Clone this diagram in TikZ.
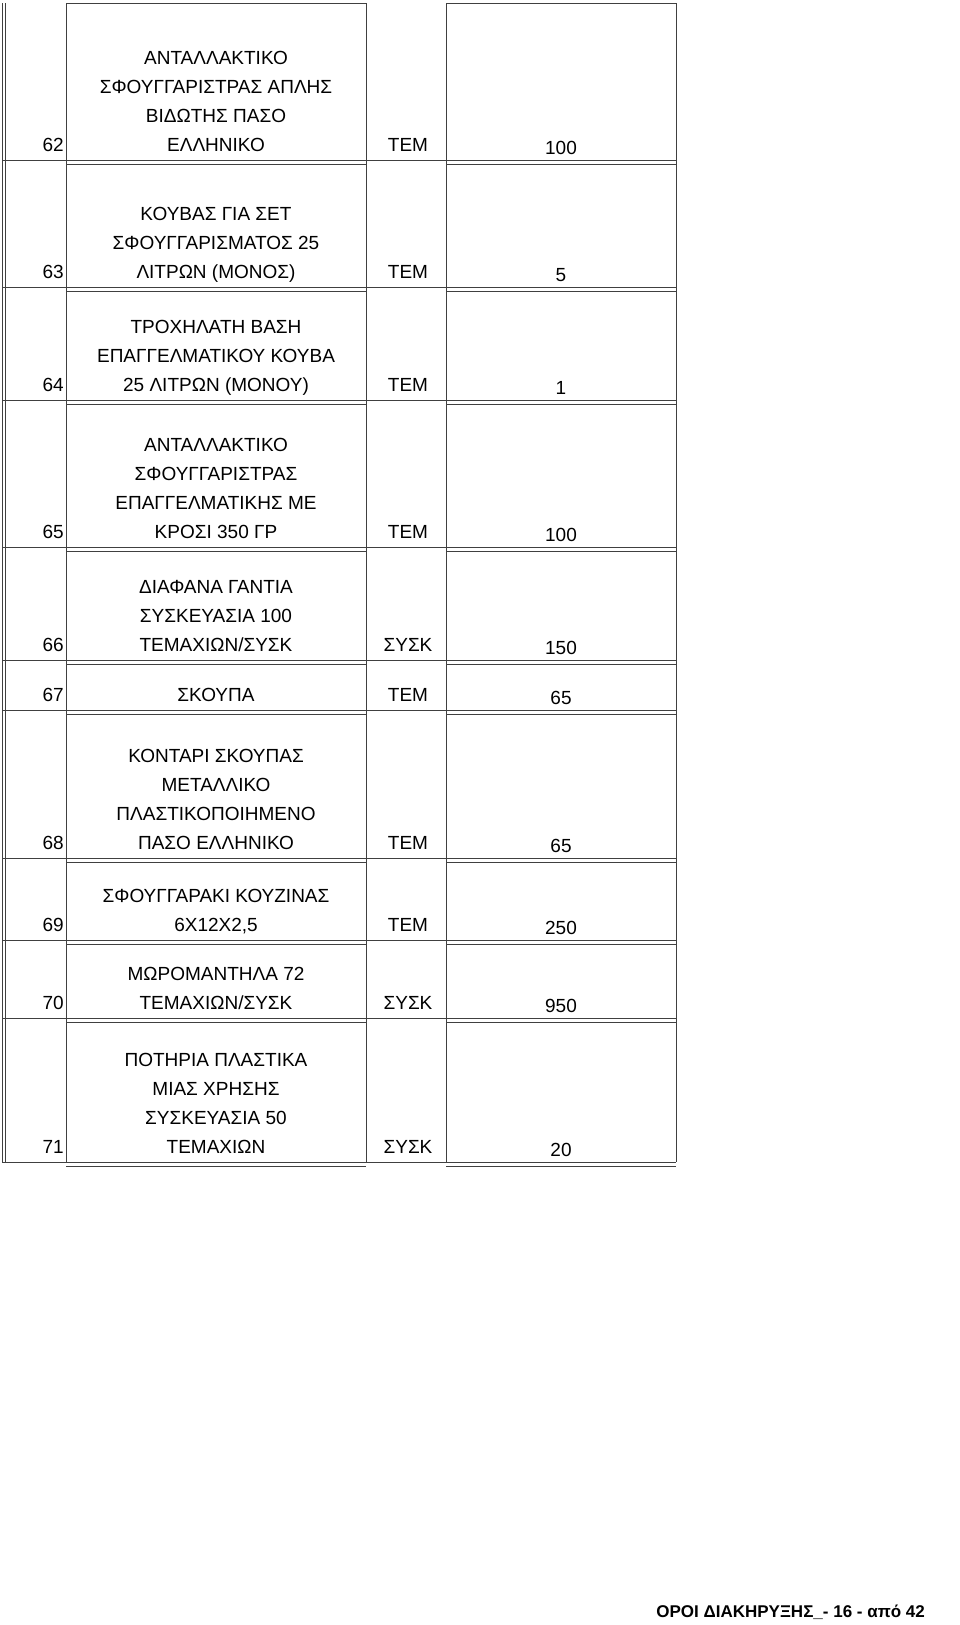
\documentclass[tikz,border=0pt]{standalone}
\usepackage{fontspec}
\setmainfont{Liberation Sans}
\usetikzlibrary{positioning}

\tikzstyle{cell} = [inner sep=0pt, font=\fontsize{19}{29}\selectfont]
\tikzstyle{grid} = [draw=black!75, line width=1pt]

\begin{document}
\begin{tikzpicture}[x=1pt, y=-1pt,
		desc/.style={cell, align=center, anchor=south}]

	\useasboundingbox (0,0) rectangle (960,1625);

	% rows: bottom, number, description, unit, quantity
	\foreach \bot/\num/\txt/\unit/\qty in {
		160/62/{ΑΝΤΑΛΛΑΚΤΙΚΟ\\ΣΦΟΥΓΓΑΡΙΣΤΡΑΣ ΑΠΛΗΣ\\ΒΙΔΩΤΗΣ ΠΑΣΟ\\ΕΛΛΗΝΙΚΟ}/ΤΕΜ/100,
		287/63/{ΚΟΥΒΑΣ ΓΙΑ ΣΕΤ\\ΣΦΟΥΓΓΑΡΙΣΜΑΤΟΣ 25\\ΛΙΤΡΩΝ (ΜΟΝΟΣ)}/ΤΕΜ/5,
		400/64/{ΤΡΟΧΗΛΑΤΗ ΒΑΣΗ\\ΕΠΑΓΓΕΛΜΑΤΙΚΟΥ ΚΟΥΒΑ\\25 ΛΙΤΡΩΝ (ΜΟΝΟΥ)}/ΤΕΜ/1,
		547/65/{ΑΝΤΑΛΛΑΚΤΙΚΟ\\ΣΦΟΥΓΓΑΡΙΣΤΡΑΣ\\ΕΠΑΓΓΕΛΜΑΤΙΚΗΣ ΜΕ\\ΚΡΟΣΙ 350 ΓΡ}/ΤΕΜ/100,
		660/66/{ΔΙΑΦΑΝΑ ΓΑΝΤΙΑ\\ΣΥΣΚΕΥΑΣΙΑ 100\\ΤΕΜΑΧΙΩΝ/ΣΥΣΚ}/ΣΥΣΚ/150,
		710/67/{ΣΚΟΥΠΑ}/ΤΕΜ/65,
		858/68/{ΚΟΝΤΑΡΙ ΣΚΟΥΠΑΣ\\ΜΕΤΑΛΛΙΚΟ\\ΠΛΑΣΤΙΚΟΠΟΙΗΜΕΝΟ\\ΠΑΣΟ ΕΛΛΗΝΙΚΟ}/ΤΕΜ/65,
		940/69/{ΣΦΟΥΓΓΑΡΑΚΙ ΚΟΥΖΙΝΑΣ\\6Χ12Χ2,5}/ΤΕΜ/250,
		1018/70/{ΜΩΡΟΜΑΝΤΗΛΑ 72\\ΤΕΜΑΧΙΩΝ/ΣΥΣΚ}/ΣΥΣΚ/950,
		1162/71/{ΠΟΤΗΡΙΑ ΠΛΑΣΤΙΚΑ\\ΜΙΑΣ ΧΡΗΣΗΣ\\ΣΥΣΚΕΥΑΣΙΑ 50\\ΤΕΜΑΧΙΩΝ}/ΣΥΣΚ/20}
	{
		\node (num\num) [cell, anchor=base east] at (64,\bot-9) {\num};
		\node (desc\num) [desc] at (216,\bot) {\txt\strut};
		\node (unit\num) [cell, anchor=base] at (408,\bot-9) {\unit};
		\node (qty\num) [cell, anchor=base] at (561,\bot-6) {\qty};
		\draw[grid] (2,\bot) -- (676,\bot);
		\draw[grid] (66,\bot+4) -- (366,\bot+4);
		\draw[grid] (446,\bot+4) -- (676,\bot+4);
	}

	% frame
	\draw[grid] (66,3) -- (366,3);
	\draw[grid] (446,3) -- (676,3);
	\foreach \xv in {2,5,66,366,446,676}
		\draw[grid] (\xv,3) -- (\xv,1162);

	\node (footer) [inner sep=0pt, anchor=base east, font=\fontsize{17}{20}\selectfont\bfseries] at (925,1617) {ΟΡΟΙ ΔΙΑΚΗΡΥΞΗΣ\_- 16 - από 42};
\end{tikzpicture}
\end{document}
